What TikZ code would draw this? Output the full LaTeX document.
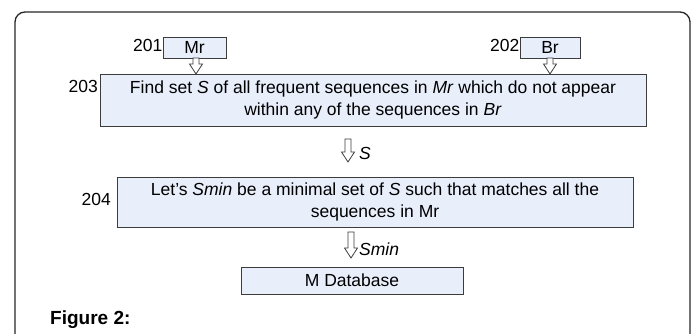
\documentclass[tikz,border=0pt]{standalone}
\usepackage{fontspec}
\setmainfont{Liberation Sans}
\usetikzlibrary{calc}
\definecolor{boxfill}{RGB}{232,238,250}
\definecolor{boxline}{RGB}{60,60,60}
\tikzset{
  stepbox/.style={draw=boxline, line width=0.9pt, fill=boxfill, inner sep=0pt, align=center, font=\fontsize{17.5}{22.5}\selectfont},
  numlabel/.style={inner sep=0pt, font=\fontsize{17.5}{20}\selectfont},
  harrowstyle/.style={draw=boxline, line width=0.8pt, fill=white, line join=miter},
  flowlabel/.style={inner sep=0pt, anchor=west, font=\fontsize{17.5}{20}\selectfont\itshape}
}
\newcommand\harrow[3]{% x, top y, tip y (picture units)
  \draw[harrowstyle] (#1-3,#2) -- (#1+3,#2) -- (#1+3,#3-10) -- (#1+6.5,#3-10) -- (#1,#3) -- (#1-6.5,#3-10) -- (#1-3,#3-10) -- cycle;
}
\begin{document}
\begin{tikzpicture}[x=1pt,y=-1pt]
\useasboundingbox (0,0) rectangle (696,334);
% frame
\draw[line width=1.3pt, black!85, rounded corners=10pt] (15,340) -- (15,12) -- (690,12) -- (690,340);

\node[stepbox, minimum width=63, minimum height=21] (mr) at (194.5,47.5) {Mr};
\node[stepbox, minimum width=60, minimum height=21] (br) at (550,47.5) {Br};
\node[numlabel, anchor=east] (l201) at (162.5,45) {201};
\node[numlabel, anchor=east] (l202) at (519.5,45) {202};

\node[stepbox, minimum width=546, minimum height=52] (b203) at (373,100) {Find set \textit{S} of all frequent sequences in \textit{Mr} which do not appear\\ within any of the sequences in \textit{Br}};
\node[numlabel, anchor=east] (l203) at (98,86) {203};

\node[stepbox, minimum width=516, minimum height=50] (b204) at (375,202) {Let’s \textit{Smin} be a minimal set of \textit{S} such that matches all the\\ sequences in Mr};
\node[numlabel, anchor=east] (l204) at (111,199) {204};

\node[stepbox, minimum width=222, minimum height=27] (mdb) at (352,280.5) {M Database};

\node[inner sep=0pt, anchor=west, font=\fontsize{19}{22}\selectfont\bfseries] (fig) at (50,320) {Figure 2:};

% hollow arrows
\harrow{196}{58}{74}
\harrow{550}{58}{74}
\harrow{348}{139}{162}
\harrow{351}{232}{258}

\coordinate (sarr) at (348,150);
\coordinate (sminarr) at (351,245);
\node[flowlabel] (slab) at ($(sarr)+(11,3)$) {S};
\node[flowlabel] (sminlab) at ($(sminarr)+(8,4)$) {Smin};
\end{tikzpicture}
\end{document}
